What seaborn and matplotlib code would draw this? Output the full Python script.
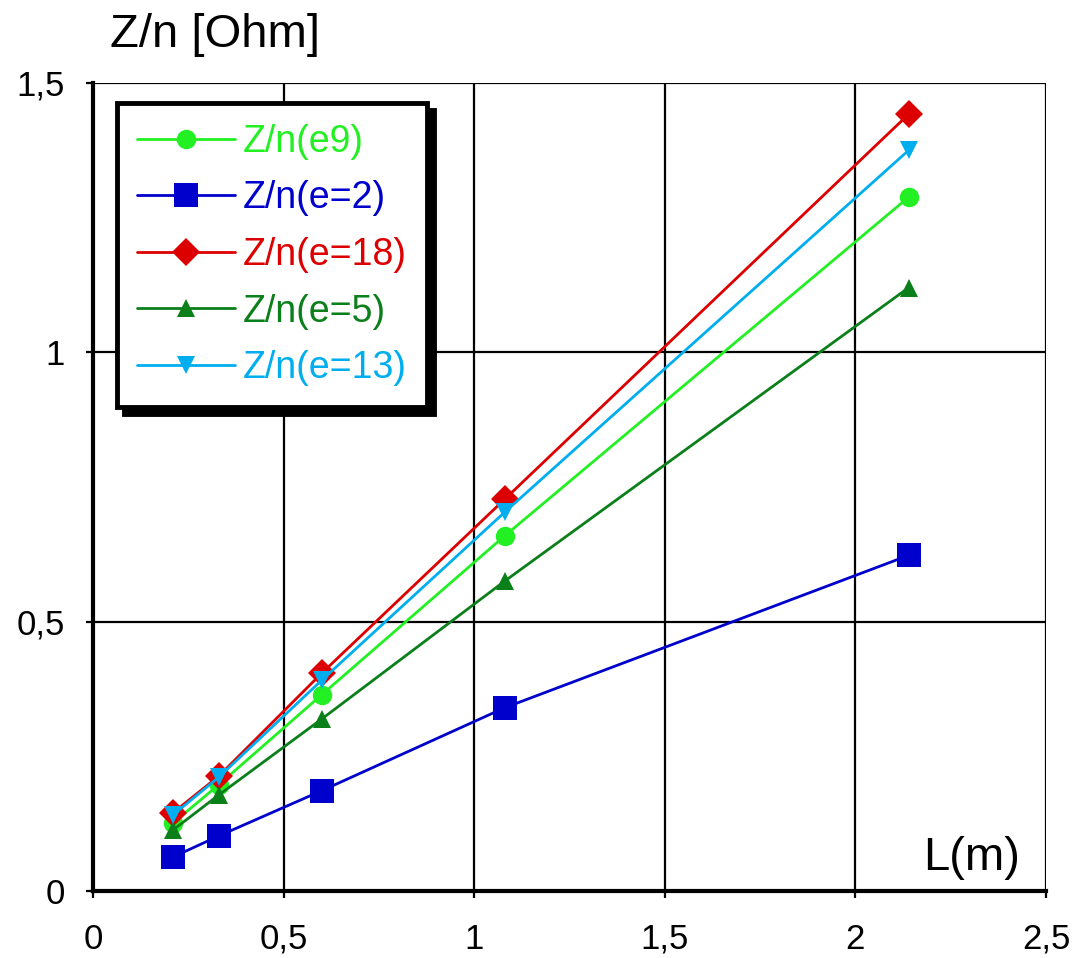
import numpy as np
import pandas as pd
import matplotlib
matplotlib.use("Agg")
import matplotlib.pyplot as plt
import seaborn as sns

# Cable length (m)
lengths = [0.21, 0.33, 0.60, 1.08, 2.14]

# Z/n [Ohm] for each configuration
zn_e9 = [0.126, 0.197, 0.364, 0.659, 1.288]
zn_e2 = [0.063, 0.102, 0.186, 0.340, 0.623]
zn_e18 = [0.145, 0.213, 0.404, 0.727, 1.442]
zn_e5 = [0.113, 0.178, 0.319, 0.575, 1.120]
zn_e13 = [0.141, 0.211, 0.391, 0.703, 1.375]

series_names = ["Z/n(e9)", "Z/n(e=2)", "Z/n(e=18)", "Z/n(e=5)", "Z/n(e=13)"]
series_values = [zn_e9, zn_e2, zn_e18, zn_e5, zn_e13]
colors = ["#22F022", "#0000CC", "#DD0000", "#0A7F1A", "#00AEEF"]
marker_shapes = ["o", "s", "D", "^", "v"]
marker_sizes = [14, 17, 14, 13, 13]

x_ticks = [0, 0.5, 1, 1.5, 2, 2.5]
x_tick_labels = ["0", "0,5", "1", "1,5", "2", "2,5"]
y_ticks = [0, 0.5, 1, 1.5]
y_tick_labels = ["0", "0,5", "1", "1,5"]

rows = []
for name, vals in zip(series_names, series_values):
    for x, y in zip(lengths, vals):
        rows.append({"L": x, "Zn": y, "series": name})
df = pd.DataFrame(rows)

sns.set_theme(style="white")
plt.rcParams["font.family"] = ["Liberation Sans", "DejaVu Sans"]

fig = plt.figure(figsize=(10.8, 9.58), dpi=100)
ax = fig.add_axes([0.086, 0.070, 0.8825, 0.8435])

for name, color, mk, ms in zip(series_names, colors, marker_shapes, marker_sizes):
    sub = df[df["series"] == name]
    sns.lineplot(data=sub, x="L", y="Zn", ax=ax, color=color, marker=mk,
                 markersize=ms, markeredgewidth=0, linewidth=2,
                 label=name, zorder=3)

ax.set_xlim(0, 2.5)
ax.set_ylim(0, 1.5)
ax.set_xticks(x_ticks)
ax.set_xticklabels(x_tick_labels)
ax.set_yticks(y_ticks)
ax.set_yticklabels(y_tick_labels)
ax.set_xlabel("")
ax.set_ylabel("")

ax.grid(True, color="black", linewidth=1.6)
ax.set_axisbelow(True)
for side in ["top", "right"]:
    ax.spines[side].set_visible(False)
for side in ["left", "bottom"]:
    ax.spines[side].set_color("black")
    ax.spines[side].set_linewidth(3)
    ax.spines[side].set_zorder(4)

ax.tick_params(axis="both", which="both", direction="out", length=5,
               width=1.6, color="black", labelsize=25, labelcolor="black")
ax.tick_params(axis="x", pad=18, bottom=True)
ax.tick_params(axis="y", pad=15, left=True)

leg = ax.legend(loc="upper left", bbox_to_anchor=(0.025, 0.975), fontsize=27,
                frameon=True, fancybox=False, framealpha=1,
                shadow={"ox": 5, "oy": -5, "color": "black", "alpha": 1},
                handlelength=2.6, handletextpad=0.2, labelspacing=0.55,
                borderpad=0.55, borderaxespad=0)
leg.get_frame().set_edgecolor("black")
leg.get_frame().set_linewidth(3.5)
for txt, color in zip(leg.get_texts(), colors):
    txt.set_color(color)
leg.set_zorder(5)

ax.text(0.922, 0.041, "L(m)", transform=ax.transAxes, fontsize=34,
        ha="center", va="center", color="black")
fig.text(0.102, 0.963, "Z/n [Ohm]", fontsize=34, ha="left", va="center",
         color="black")

fig.savefig("out.png", dpi=100)
